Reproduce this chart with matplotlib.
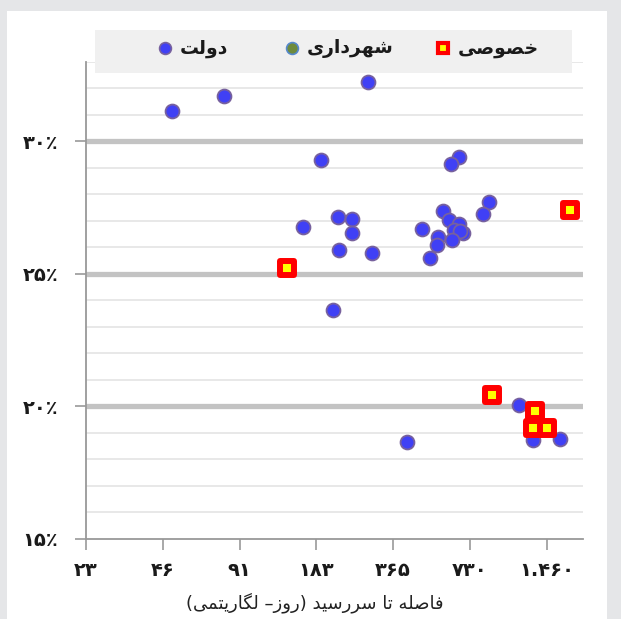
import matplotlib
matplotlib.use('Agg')
import matplotlib.pyplot as plt
from matplotlib.patches import Rectangle
from matplotlib.lines import Line2D
from matplotlib.ticker import NullLocator, FixedLocator

# ---------------- data ----------------
gov_days = [49.8, 79.0, 292, 190.8, 161.7, 222, 252.8, 252.8, 223.6, 302, 211.9,
            660.8, 614.8, 870.7, 820, 573.4, 603.7, 664, 631.6, 684.9, 671, 621.8,
            475.6, 548, 543, 511, 413, 1141.6, 1295, 1648]
gov_yield = [31.13, 31.70, 32.23, 29.28, 26.76, 27.14, 27.08, 26.54, 25.88, 25.80, 23.65,
             29.41, 29.14, 27.69, 27.24, 27.38, 27.01, 26.88, 26.66, 26.54, 26.62, 26.28,
             26.69, 26.38, 26.09, 25.60, 18.64, 20.04, 18.74, 18.78]
muni_days = []
muni_yield = []
priv_days = [139.9, 894.7, 1318.8, 1291.7, 1461.8, 1808]
priv_yield = [25.21, 20.41, 19.83, 19.20, 19.20, 27.40]

x_ticks = [22.8125, 45.625, 91.25, 182.5, 365, 730, 1460]
x_tick_labels = ['۲۳', '۴۶', '۹۱', '۱۸۳', '۳۶۵', '۷۳۰', '۱.۴۶۰']
y_ticks = [15, 20, 25, 30]
y_tick_labels = ['۱۵٪', '۲۰٪', '۲۵٪', '۳۰٪']
legend_labels = ['دولت', 'شهرداری', 'خصوصی']
x_label = 'فاصله تا سررسید (روز– لگاریتمی)'

# ---------------- simple Persian shaping ----------------
FORMS = {
    'ا': ('\uFE8D', '\uFE8E', None, None),
    'ت': ('\uFE95', '\uFE96', '\uFE97', '\uFE98'),
    'خ': ('\uFEA5', '\uFEA6', '\uFEA7', '\uFEA8'),
    'د': ('\uFEA9', '\uFEAA', None, None),
    'ر': ('\uFEAD', '\uFEAE', None, None),
    'ز': ('\uFEAF', '\uFEB0', None, None),
    'س': ('\uFEB1', '\uFEB2', '\uFEB3', '\uFEB4'),
    'ش': ('\uFEB5', '\uFEB6', '\uFEB7', '\uFEB8'),
    'ص': ('\uFEB9', '\uFEBA', '\uFEBB', '\uFEBC'),
    'ف': ('\uFED1', '\uFED2', '\uFED3', '\uFED4'),
    'ل': ('\uFEDD', '\uFEDE', '\uFEDF', '\uFEE0'),
    'م': ('\uFEE1', '\uFEE2', '\uFEE3', '\uFEE4'),
    'ه': ('\uFEE9', '\uFEEA', '\uFEEB', '\uFEEC'),
    'و': ('\uFEED', '\uFEEE', None, None),
    'ی': ('\uFBFC', '\uFBFD', '\uFBFE', '\uFBFF'),
    'گ': ('\uFB92', '\uFB93', '\uFB94', '\uFB95'),
}


def shape(s):
    out = []
    for i, c in enumerate(s):
        if c not in FORMS:
            out.append(c)
            continue
        prev = s[i - 1] if i > 0 else None
        nxt = s[i + 1] if i + 1 < len(s) else None
        jp = prev in FORMS and FORMS[prev][2] is not None
        jn = nxt in FORMS and FORMS[c][2] is not None
        iso, fin, ini, med = FORMS[c]
        if jp and jn:
            out.append(med)
        elif jp:
            out.append(fin)
        elif jn:
            out.append(ini)
        else:
            out.append(iso)
    return ''.join(out)


def rtl(s):
    mirror = {'(': ')', ')': '('}
    return ''.join(mirror.get(c, c) for c in reversed(shape(s)))


plt.rcParams['font.family'] = ['DejaVu Sans']

W, H = 621, 619
fig = plt.figure(figsize=(W / 100, H / 100), dpi=100, facecolor='#e5e6e8')

# white panel
fig.add_artist(Rectangle((7 / W, 0), (607 - 7) / W, (H - 11) / H,
                         transform=fig.transFigure, facecolor='white',
                         edgecolor='none', zorder=-10))

ax = fig.add_axes([86 / W, (H - 539) / H, (583 - 86) / W, (539 - 61.5) / H])
ax.set_facecolor('white')
ax.set_xscale('log')
ax.set_xlim(22.8125, 2030)
ax.set_ylim(15, 33)

ax.set_xticks(x_ticks)
ax.set_xticklabels(x_tick_labels)
ax.xaxis.set_minor_locator(NullLocator())
ax.set_yticks(y_ticks)
ax.set_yticklabels(y_tick_labels)
ax.yaxis.set_minor_locator(FixedLocator([v for v in range(16, 34) if v not in y_ticks]))

for lab in ax.get_xticklabels() + ax.get_yticklabels():
    lab.set_fontweight('bold')
    lab.set_fontsize(14)
    lab.set_color('#1a1a1a')

ax.tick_params(axis='y', which='major', length=8, width=1.2, color='#999999', pad=12)
ax.tick_params(axis='y', which='minor', length=0)
ax.tick_params(axis='x', which='major', length=8, width=1.2, color='#999999', pad=8)

ax.grid(False)
ax.yaxis.grid(True, which='major', color='#c3c3c3', linewidth=3.8)
ax.yaxis.grid(True, which='minor', color='#e2e2e2', linewidth=1.1)
ax.get_ygridlines()[0].set_visible(False)
ax.set_axisbelow(True)

for side in ['top', 'right']:
    ax.spines[side].set_visible(False)
for side in ['left', 'bottom']:
    ax.spines[side].set_color('#999999')
    ax.spines[side].set_linewidth(1.3)

# points
ax.scatter(gov_days, gov_yield, s=100, facecolor='#4040f5', edgecolor='#77619e',
           linewidths=1.3, zorder=3, clip_on=False)
if muni_days:
    ax.scatter(muni_days, muni_yield, s=100, facecolor='#6e8b3d', edgecolor='#5588cc',
               linewidths=1.3, zorder=3)
sq = ax.scatter(priv_days, priv_yield, s=105, marker='s', facecolor='#ffff00',
                edgecolor='#ff0000', linewidths=4.3, zorder=4, clip_on=False)
sq.set_joinstyle('round')

# x label
fig.text(315 / W, (H - 603) / H, rtl(x_label), ha='center', va='center',
         fontsize=13, color='#222222')

# legend box
fig.add_artist(Rectangle((95 / W, (H - 73) / H), (572 - 95) / W, 43 / H,
                         transform=fig.transFigure, facecolor='#f0f0f0',
                         edgecolor='none', zorder=5))
ly = (H - 48) / H
items = [
    (165, dict(marker='o', markersize=8.5, markerfacecolor='#4040f5',
               markeredgecolor='#77619e', markeredgewidth=1.2)),
    (292, dict(marker='o', markersize=8.5, markerfacecolor='#6e8b3d',
               markeredgecolor='#5588cc', markeredgewidth=1.2)),
    (443, dict(marker='s', markersize=7, markerfacecolor='#ffff00',
               markeredgecolor='#ff0000', markeredgewidth=3)),
]
for (mx, kw), lab in zip(items, legend_labels):
    ln = Line2D([mx / W], [ly], transform=fig.transFigure, linestyle='none',
                zorder=6, **kw)
    fig.add_artist(ln)
    fig.text((mx + 15) / W, ly, rtl(lab), ha='left', va='center', fontsize=13.5,
             fontweight='bold', color='#1a1a1a', zorder=6)

fig.savefig('out.png', dpi=100, facecolor=fig.get_facecolor())
